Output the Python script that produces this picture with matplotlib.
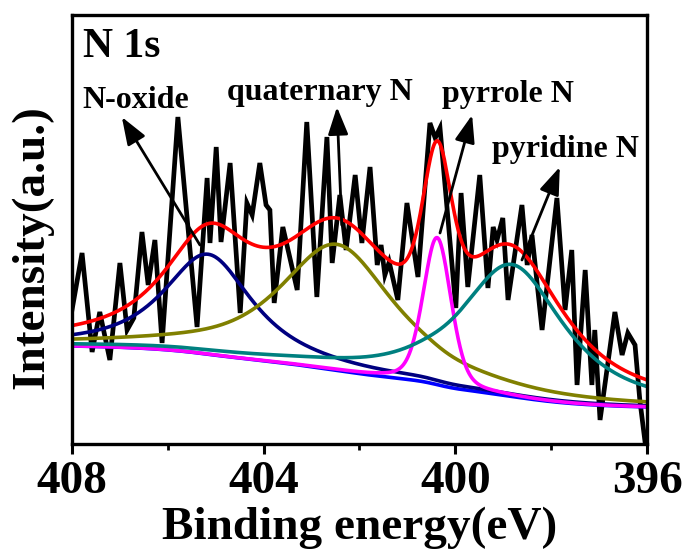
import numpy as np
import matplotlib.pyplot as plt
from matplotlib.ticker import FixedLocator

plt.rcParams['font.family'] = 'Liberation Serif'
plt.rcParams['font.weight'] = 'bold'

# measured N 1s spectrum (binding energy in eV, intensity in a.u.)
be_raw = [408.00, 407.79, 407.58, 407.42, 407.21, 407.00, 406.85, 406.71, 406.54,
          406.41, 406.27, 406.12, 405.79, 405.39, 405.18, 405.12, 404.99, 404.89,
          404.70, 404.49, 404.35, 404.24, 404.08, 403.95, 403.87, 403.78, 403.60,
          403.30, 403.10, 402.89, 402.68, 402.57, 402.41, 402.28, 402.09, 401.95,
          401.78, 401.63, 401.55, 401.47, 401.38, 401.20, 401.01, 400.78, 400.53,
          400.42, 400.32, 399.99, 399.88, 399.74, 399.49, 399.32, 399.21, 399.13,
          399.01, 398.90, 398.61, 398.50, 398.40, 398.19, 397.88, 397.71, 397.57,
          397.46, 397.29, 397.15, 397.09, 396.98, 396.67, 396.52, 396.40, 396.25,
          396.15, 396.02]
int_raw = [134, 191, 92, 132, 84, 181, 114, 126, 212,
           159, 204, 101, 327, 117, 266, 201, 297, 202,
           281, 131, 241, 229, 281, 239, 234, 141, 217,
           154, 322, 147, 307, 181, 249, 194, 269, 201,
           277, 179, 199, 169, 182, 144, 241, 167, 321,
           306, 316, 136, 251, 157, 269, 156, 217, 204,
           226, 144, 239, 179, 209, 114, 246, 134, 194,
           59, 174, 59, 114, 24, 132, 89, 111, 99,
           44, -6]

# fitted components
names = ['N-oxide', 'quaternary N', 'pyrrole N', 'pyridine N']
centers = [405.16, 402.47, 400.38, 398.82]
heights = [100, 126, 147, 132]
fwhms = [2.2, 2.9, 0.69, 2.6]
lor_frac = [0.85, 0.85, 0.3, 0.85]
colors = ['#000080', '#808000', '#ff00ff', '#008080']
bg_high, bg_low = 98, 37   # background at 408 eV and at 396 eV

# label text position and arrow (tail -> tip) for each component
label_pos = [(407.79, 336), (404.77, 344), (400.28, 342), (399.23, 287)]
arrow_tail = [(405.33, 199), (402.37, 219), (400.32, 211), (398.61, 184)]
arrow_tip = [(406.96, 327), (402.47, 337), (399.65, 329), (397.82, 277)]


def pseudo_voigt(x, c, h, w, eta):
    g = np.exp(-4 * np.log(2) * ((x - c) / w) ** 2)
    l = 1 / (1 + 4 * ((x - c) / w) ** 2)
    return h * (eta * l + (1 - eta) * g)


x = np.linspace(396, 408, 1201)
peaks = [pseudo_voigt(x, *p) for p in zip(centers, heights, fwhms, lor_frac)]
total = np.sum(peaks, axis=0)
# shirley type background, rising with the peak area on the low BE side
area = np.cumsum(total)
bg = bg_low + (bg_high - bg_low) * area / area[-1]

fig = plt.figure(figsize=(6.83, 5.52), dpi=100)
ax = fig.add_axes([0.1054, 0.1957, 0.8419, 0.7771])

ax.plot(be_raw, int_raw, color='black', lw=3.4, solid_joinstyle='miter')
ax.plot(x, bg, color='#0000ff', lw=2.6)
for p, c in zip(peaks, colors):
    ax.plot(x, p + bg, color=c, lw=2.6)
ax.plot(x, total + bg, color='#ff0000', lw=2.6)

for name, pos, tail, tip in zip(names, label_pos, arrow_tail, arrow_tip):
    ax.annotate('', xy=tip, xytext=tail,
                arrowprops=dict(arrowstyle='-|>,head_length=0.6,head_width=0.22',
                                mutation_scale=28, lw=2, color='black',
                                shrinkA=0, shrinkB=0))
    ax.text(pos[0], pos[1], name, fontsize=23, fontweight='bold',
            ha='left', va='baseline')

ax.text(407.77, 387, 'N 1s', fontsize=30, fontweight='bold', ha='left', va='baseline')

ax.set_xlim(408, 396)
ax.set_ylim(0, 429)
ax.set_yticks([])
ax.set_xticks([408, 404, 400, 396])
ax.xaxis.set_minor_locator(FixedLocator([406, 402, 398]))
ax.tick_params(axis='x', which='major', direction='out', length=7, width=2.2,
               labelsize=34, pad=5)
ax.tick_params(axis='x', which='minor', direction='out', length=4, width=2)
for s in ax.spines.values():
    s.set_linewidth(2.4)

ax.set_xlabel('Binding energy(eV)', fontsize=34, fontweight='bold', labelpad=3)
ax.set_ylabel('Intensity(a.u.)', fontsize=34, fontweight='bold')
ax.yaxis.set_label_coords(-0.033, 0.46)

fig.savefig('out.png', dpi=100)
